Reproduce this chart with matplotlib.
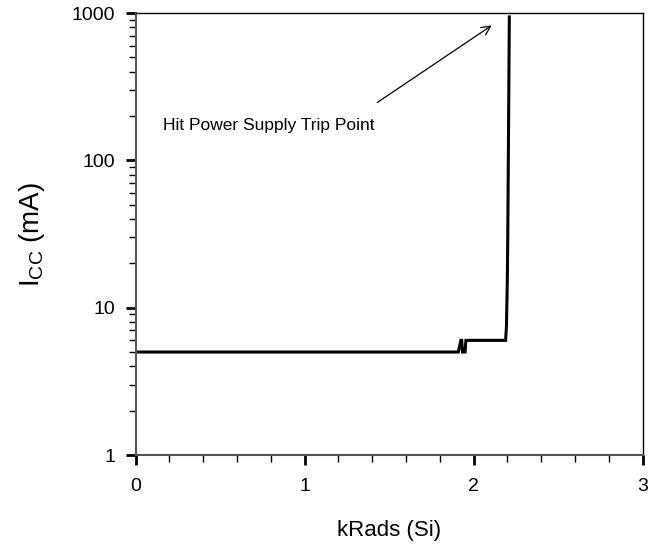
import matplotlib
matplotlib.use("Agg")
import matplotlib.pyplot as plt
from matplotlib.ticker import FixedLocator, NullFormatter

plt.rcParams['font.family'] = ['Liberation Sans', 'DejaVu Sans']

# Data
krads = [0.0, 1.91, 1.925, 1.93, 1.935, 1.95, 1.955, 2.19, 2.195, 2.200, 2.203, 2.206, 2.209, 2.212]
icc_ma = [5.0, 5.0, 6.0, 6.0, 5.0, 5.0, 6.0, 6.0, 7.5, 15.0, 32.0, 100.0, 300.0, 940.0]

xticks = [0, 1, 2, 3]
yticks = [1, 10, 100, 1000]
ytick_labels = ["1", "10", "100", "1000"]
annotation_text = "Hit Power Supply Trip Point"
annotation_pos = (0.165, 160.0)
arrow_tail = (1.417, 241.0)
arrow_head = (2.121, 843.0)

fig = plt.figure(figsize=(6.57, 5.5), dpi=100)
ax = fig.add_axes([135.5 / 657, 95 / 550, 507 / 657, 442 / 550])

ax.plot(krads, icc_ma, color='black', linewidth=2.2, solid_joinstyle='miter')

ax.set_yscale('log')
ax.set_xlim(0, 3)
ax.set_ylim(1, 1000)

ax.set_xticks(xticks)
ax.set_xticklabels([str(t) for t in xticks])
ax.xaxis.set_minor_locator(FixedLocator([i * 0.2 for i in range(16) if i % 5 != 0]))
ax.set_yticks(yticks)
ax.set_yticklabels(ytick_labels)
minor_y = [m * 10 ** d for d in range(3) for m in range(2, 10)]
ax.yaxis.set_minor_locator(FixedLocator(minor_y))
ax.yaxis.set_minor_formatter(NullFormatter())

ax.tick_params(which='major', direction='out', length=7.5, width=2, labelsize=14, pad=7, color='black')
ax.tick_params(which='minor', direction='out', length=5, width=1, color='black')
ax.tick_params(axis='x', which='major', pad=9)
ax.tick_params(top=False, right=False)

for side in ['left', 'bottom']:
    ax.spines[side].set_color('#555555')
    ax.spines[side].set_linewidth(1.5)
for side in ['top', 'right']:
    ax.spines[side].set_color('black')
    ax.spines[side].set_linewidth(1.0)

ax.set_xlabel("kRads (Si)", fontsize=16, labelpad=18)
ax.set_ylabel(r"I$_{\mathregular{CC}}$ (mA)", fontsize=20, labelpad=18)

ax.text(annotation_pos[0], annotation_pos[1], annotation_text, fontsize=12.5, ha='left', va='baseline')
ax.annotate("", xy=arrow_head, xytext=arrow_tail,
            arrowprops=dict(arrowstyle='->', color='black', lw=0.9, mutation_scale=16))

fig.savefig("out.png", dpi=100)
